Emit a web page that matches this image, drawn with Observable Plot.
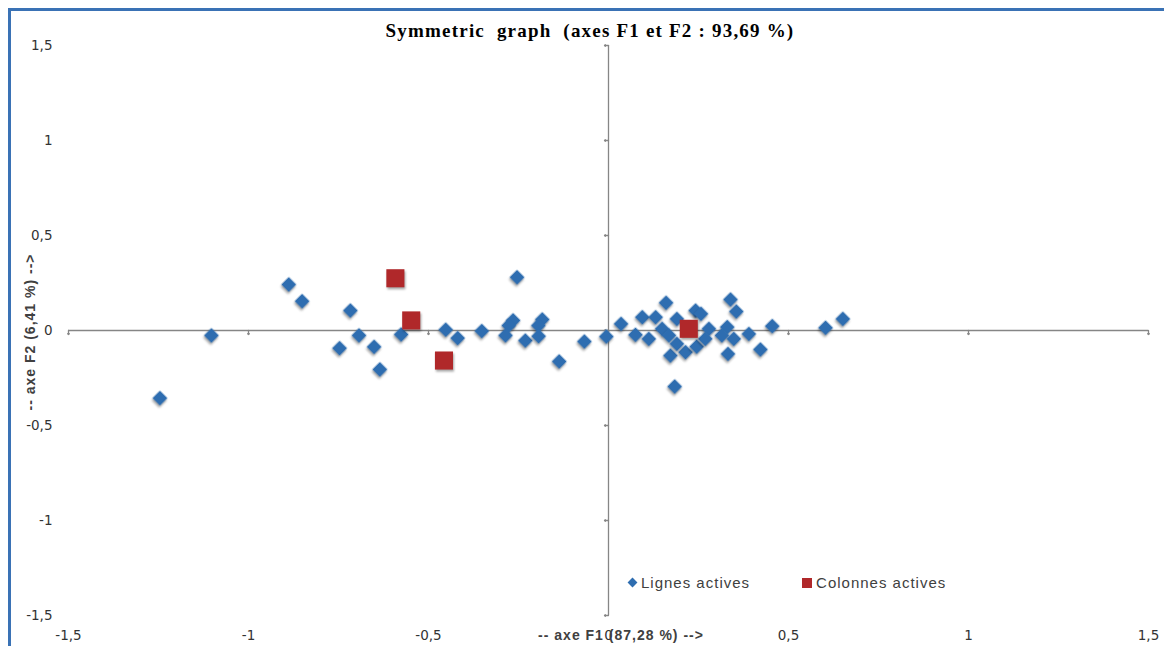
<!DOCTYPE html>
<html>
<head>
<meta charset="utf-8">
<script src="https://cdn.jsdelivr.net/npm/d3@7"></script>
<script src="https://cdn.jsdelivr.net/npm/@observablehq/plot@0.6"></script>
<style>
  body { margin: 0; background: #fff; }
  #wrap { position: relative; width: 1164px; height: 646px; overflow: hidden; background: #fff; }
  #frame { position: absolute; left: 8px; top: 8px; right: -10px; bottom: -10px;
           border-left: 3px solid #3a72b5; border-top: 3px solid #3a72b5; pointer-events: none; }
  #chart { position: absolute; left: 0; top: 0; }
  #chart svg g[aria-label="dot"] path { filter: drop-shadow(1px 2px 1.2px rgba(0,0,0,0.35)); }
  .title { position: absolute; left: 0; width: 1180px; top: 20px; text-align: center;
           font: bold 19px "Liberation Serif", "Times New Roman", serif; letter-spacing: 1.2px; color: #000; white-space: pre; }
  .xlab { position: absolute; left: 421px; width: 400px; top: 627px; text-align: center; letter-spacing: 1px;
          font: bold 14px "Liberation Sans Narrow", "Arial Narrow", "Liberation Sans", sans-serif; color: #404040; white-space: pre; }
  .ylab { position: absolute; left: -170px; width: 400px; top: 324px; text-align: center; transform: rotate(-90deg); letter-spacing: 1px;
          font: bold 14px "Liberation Sans Narrow", "Arial Narrow", "Liberation Sans", sans-serif; color: #404040; white-space: pre; }
  .legend { position: absolute; top: 574px; left: 627px; font: 15px "Liberation Sans Narrow", "Arial Narrow", "Liberation Sans", sans-serif;
            color: #404040; display: flex; align-items: center; letter-spacing: 1px; }
  .legend .sw { display: inline-block; margin-right: 4px; }
  .legend .dia { width: 7px; height: 7px; background: #2e6db0; transform: rotate(45deg); margin-left: 2px; margin-right: 5px; }
  .legend .sq { width: 10px; height: 10px; background: #b0282a; margin-left: 52px; }
</style>
</head>
<body>
<div id="wrap">
  <div id="chart"></div>
  <div id="frame"></div>
  <div class="title">Symmetric  graph  (axes F1 et F2 : 93,69 %)</div>
  <div class="xlab">-- axe F1 (87,28 %) --&gt;</div>
  <div class="ylab">-- axe F2 (6,41 %) --&gt;</div>
  <div class="legend"><span class="sw dia"></span>Lignes actives<span class="sw sq"></span>Colonnes actives</div>
</div>
<script>
// Lignes actives (blue diamonds)
const lignesF1 = [
  -1.246, -1.103, -0.888, -0.851, -0.717, -0.747, -0.693, -0.651, -0.635, -0.576,
  -0.452, -0.419, -0.352, -0.254, -0.265, -0.277, -0.286, -0.231, -0.184, -0.195,
  -0.194, -0.137, -0.067, -0.006, 0.035,
  0.160, 0.094, 0.131, 0.075, 0.112, 0.149, 0.168, 0.190, 0.172, 0.214,
  0.184, 0.245, 0.190, 0.242, 0.257, 0.339, 0.355, 0.279, 0.330, 0.269,
  0.315, 0.348, 0.390, 0.455, 0.422, 0.332, 0.603, 0.651
];
const lignesF2 = [
  -0.356, -0.026, 0.242, 0.154, 0.105, -0.093, -0.026, -0.086, -0.205, -0.021,
  0.004, -0.040, -0.003, 0.280, 0.053, 0.026, -0.026, -0.053, 0.058, 0.026,
  -0.030, -0.163, -0.058, -0.032, 0.035,
  0.146, 0.070, 0.070, -0.023, -0.044, 0.009, -0.026, 0.061, -0.132, -0.114,
  -0.295, -0.085, -0.070, 0.105, 0.088, 0.163, 0.100, 0.009, 0.018, -0.044,
  -0.026, -0.044, -0.018, 0.023, -0.100, -0.123, 0.014, 0.061
];
// Colonnes actives (red squares)
const colonnesF1 = [-0.592, -0.548, -0.457, 0.223];
const colonnesF2 = [0.275, 0.053, -0.158, 0.009];

const axisTicks = [-1.5, -1, -0.5, 0, 0.5, 1, 1.5];
const fmt = d => String(d).replace(".", ",");

const lignes = lignesF1.map((x, i) => ({x, y: lignesF2[i]}));
const colonnes = colonnesF1.map((x, i) => ({x, y: colonnesF2[i]}));

const grey = "#868686";
const chart = Plot.plot({
  width: 1164,
  height: 646,
  marginLeft: 68,
  marginRight: 16,
  marginTop: 45,
  marginBottom: 31,
  style: {background: "transparent", overflow: "visible"},
  x: {domain: [-1.5, 1.5]},
  y: {domain: [-1.5, 1.5]},
  marks: [
    Plot.axisX(axisTicks, {tickSize: 0, tickPadding: 15, tickFormat: fmt, fontSize: 13.5,
      fontFamily: "DejaVu Sans, Verdana, sans-serif", fill: "#333", label: null}),
    Plot.axisY(axisTicks, {tickSize: 0, tickPadding: 16, tickFormat: fmt, fontSize: 13.5,
      fontFamily: "DejaVu Sans, Verdana, sans-serif", fill: "#333", label: null}),
    Plot.ruleY([0], {x1: -1.5, x2: 1.5, stroke: grey, strokeWidth: 1.3}),
    Plot.ruleX([0], {y1: -1.5, y2: 1.5, stroke: grey, strokeWidth: 1.3}),
    Plot.vector(axisTicks, {x: d => d, y: 0, length: 4, rotate: 180, anchor: "start", stroke: grey, strokeWidth: 1.3}),
    Plot.vector(axisTicks, {x: 0, y: d => d, length: 4, rotate: 270, anchor: "start", stroke: grey, strokeWidth: 1.3}),
    Plot.dot(lignes, {x: "x", y: "y", symbol: "square", rotate: 45, r: 6, fill: "#2e6db0", stroke: "none"}),
    Plot.dot(colonnes, {x: "x", y: "y", symbol: "square", r: 10.2, fill: "#b0282a", stroke: "none"})
  ]
});
document.getElementById("chart").appendChild(chart);
</script>
</body>
</html>
